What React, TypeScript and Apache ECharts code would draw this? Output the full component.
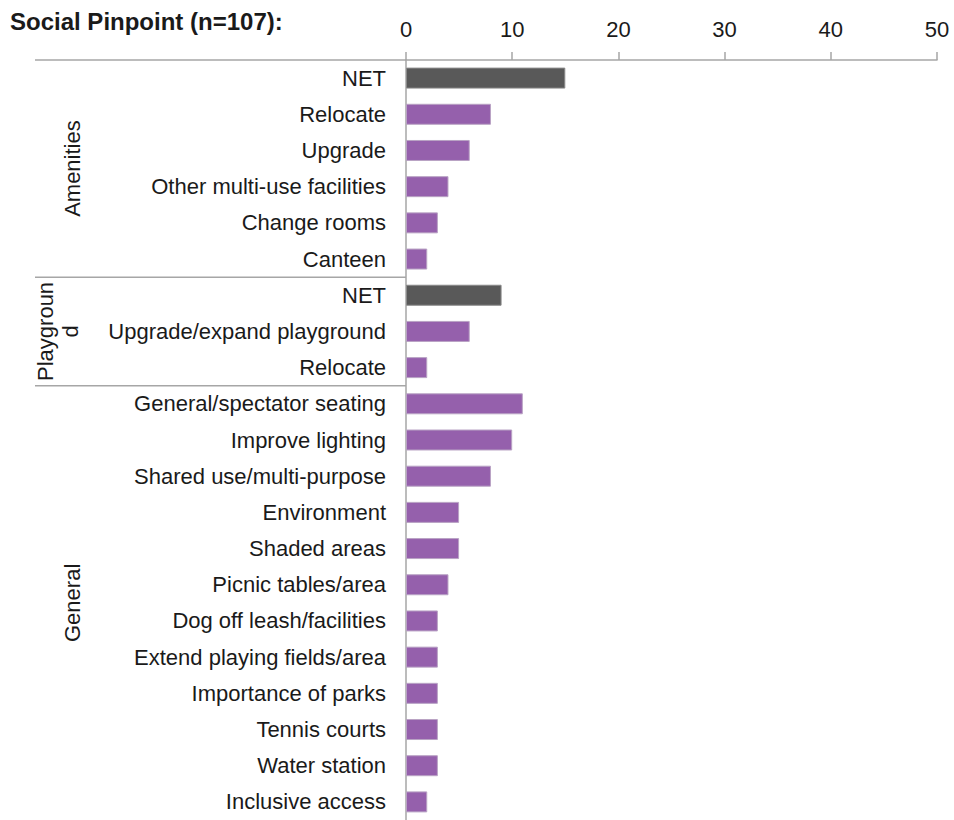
import React, { useEffect, useRef } from "react";
import * as echarts from "echarts";

const title = "Social Pinpoint (n=107):";
const categories = [
  "NET", "Relocate", "Upgrade", "Other multi-use facilities", "Change rooms", "Canteen",
  "NET", "Upgrade/expand playground", "Relocate",
  "General/spectator seating", "Improve lighting", "Shared use/multi-purpose", "Environment",
  "Shaded areas", "Picnic tables/area", "Dog off leash/facilities", "Extend playing fields/area",
  "Importance of parks", "Tennis courts", "Water station", "Inclusive access",
];
const values = [15, 8, 6, 4, 3, 2, 9, 6, 2, 11, 10, 8, 5, 5, 4, 3, 3, 3, 3, 3, 2];
const groups = [
  { name: "Amenities", start: 0, end: 5 },
  { name: "Playgroun\nd", start: 6, end: 8 },
  { name: "General", start: 9, end: 20 },
];
const xTicks = { min: 0, max: 50, interval: 10 };

const FONT = "'Liberation Sans', Arial, sans-serif";
const PURPLE = "#9560ac";
const DARK = "#595959";
const AXIS = "#a6a6a6";
const TEXT = "#1a1a1a";

export default function App() {
  const ref = useRef<HTMLDivElement>(null);
  useEffect(() => {
    if (!ref.current) return;
    const chart = echarts.init(ref.current, null, { renderer: "svg" });
    const option: any = {
      animation: false,
      textStyle: { fontFamily: FONT },
      grid: { left: 406, right: 17, top: 60, bottom: -2, containLabel: false },
      xAxis: {
        type: "value",
        position: "top",
        min: xTicks.min,
        max: xTicks.max,
        interval: xTicks.interval,
        axisLine: { show: true, lineStyle: { color: AXIS, width: 1.5 } },
        axisTick: { show: true, length: 8, lineStyle: { color: AXIS, width: 1.5 } },
        splitLine: { show: false },
        axisLabel: { fontSize: 22, color: TEXT, margin: 20, fontFamily: FONT },
      },
      yAxis: {
        type: "category",
        inverse: true,
        data: categories,
        axisLine: { show: true, lineStyle: { color: AXIS, width: 1.5 } },
        axisTick: { show: false },
        axisLabel: { fontSize: 22, color: TEXT, margin: 20, fontFamily: FONT },
      },
      series: [
        {
          type: "bar",
          barWidth: "58%",
          data: values.map((v, i) => ({
            value: v,
            itemStyle: {
              color: categories[i] === "NET" ? DARK : PURPLE,
              borderColor: categories[i] === "NET" ? "#8a8a8a" : "#b9a3c4",
              borderWidth: 1,
            },
          })),
        },
      ],
    };
    chart.setOption(option);

    const yOf = (idx: number) => chart.convertToPixel({ yAxisIndex: 0 }, idx) as number;
    const x0 = chart.convertToPixel({ xAxisIndex: 0 }, 0) as number;
    const half = (yOf(1) - yOf(0)) / 2;
    const graphics: any[] = [
      {
        type: "text",
        x: 10,
        y: 21,
        style: { text: title, font: `bold 24px ${FONT}`, fill: TEXT, verticalAlign: "middle" },
      },
      {
        type: "line",
        shape: { x1: 35, y1: yOf(0) - half, x2: x0, y2: yOf(0) - half },
        style: { stroke: AXIS, lineWidth: 1.5 },
      },
    ];
    groups.forEach((g, gi) => {
      const top = yOf(g.start) - half;
      const bottom = yOf(g.end) + half;
      if (gi > 0) {
        graphics.push({
          type: "line",
          shape: { x1: 35, y1: top, x2: x0, y2: top },
          style: { stroke: AXIS, lineWidth: 1.5 },
        });
      }
      graphics.push({
        type: "text",
        x: g.name.includes("\n") ? 58 : 72,
        y: (top + bottom) / 2,
        rotation: Math.PI / 2,
        style: {
          text: g.name,
          font: `22px ${FONT}`,
          fill: TEXT,
          align: "center",
          verticalAlign: "middle",
          lineHeight: 25,
        },
      });
    });
    chart.setOption({ graphic: graphics });
    return () => chart.dispose();
  }, []);
  return (
    <div
      ref={ref}
      style={{ position: "fixed", left: 0, top: 0, width: 954, height: 820, background: "#fff" }}
    />
  );
}
